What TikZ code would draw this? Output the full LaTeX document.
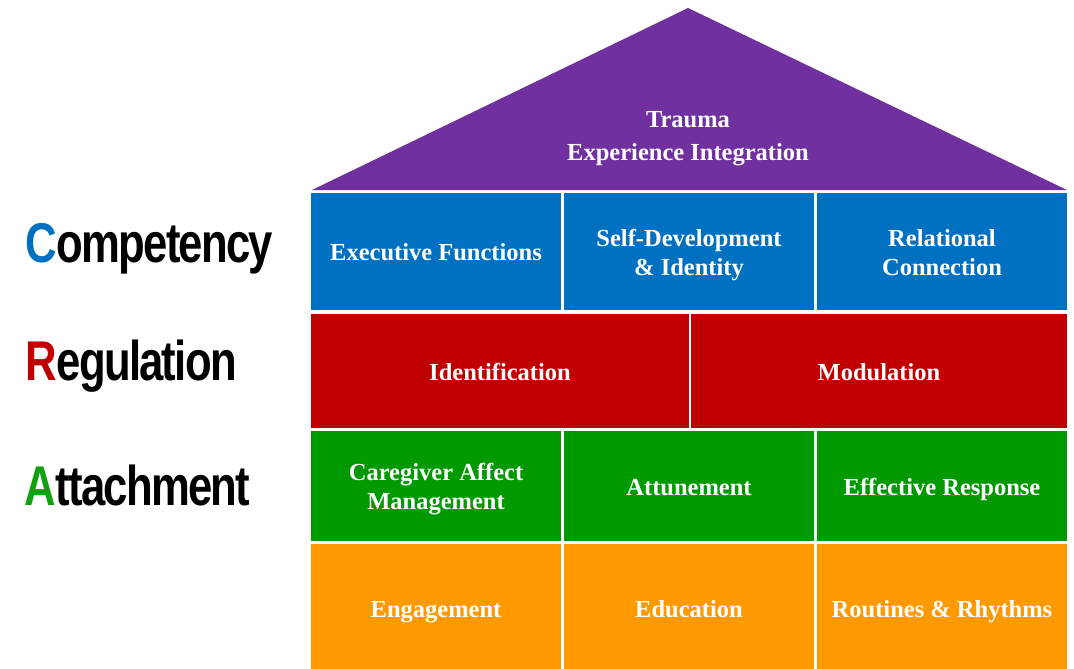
\documentclass[tikz,border=0pt]{standalone}
\usepackage{graphicx}
\usepackage{fontspec}
\setmainfont{Liberation Serif}
\newfontfamily\labelfont[LetterSpace=-4]{Liberation Sans}
\definecolor{roofC}{HTML}{7030A0}
\definecolor{compC}{HTML}{0070C0}
\definecolor{regC}{HTML}{C00000}
\definecolor{attC}{HTML}{009900}
\definecolor{foundC}{HTML}{FF9900}
\definecolor{letterA}{HTML}{10A010}
\begin{document}
\begin{tikzpicture}[x=1pt,y=-1pt,
  cell/.style={rectangle, inner sep=0pt, outer sep=0pt},
  celltext/.style={anchor=base, inner sep=0pt, outer sep=0pt, text=white,
    font=\bfseries\fontsize{24.5}{30}\selectfont},
  crlabel/.style={anchor=base west, inner sep=0pt, outer sep=0pt}
]
\useasboundingbox (0,0) rectangle (1074,669);
\clip (0,0) rectangle (1074,669);
\fill[white] (0,0) rectangle (1074,669);

% roof
\fill[roofC] (312,190) -- (688,8) -- (1067,190) -- cycle;
\coordinate (apex) at (688,8);
\node[celltext] (trauma1) at (688,127) {Trauma};
\node[celltext] (trauma2) at (688,160) {Experience Integration};

% Competency row
\node[cell, fill=compC, minimum width=250pt, minimum height=117pt] (ef) at (436,251.5) {};
\node[cell, fill=compC, minimum width=250pt, minimum height=117pt] (sd) at (689,251.5) {};
\node[cell, fill=compC, minimum width=250pt, minimum height=117pt] (rc) at (942,251.5) {};
\node[celltext] (efT) at ([shift={(0,9)}]ef.center) {Executive Functions};
\node[celltext] (sdT1) at ([shift={(0,-5.5)}]sd.center) {Self-Development};
\node[celltext] (sdT2) at ([shift={(0,23.5)}]sd.center) {\& Identity};
\node[celltext] (rcT1) at ([shift={(0,-5.5)}]rc.center) {Relational};
\node[celltext] (rcT2) at ([shift={(0,23.5)}]rc.center) {Connection};

% Regulation row
\node[cell, fill=regC, minimum width=378pt, minimum height=114pt] (id) at (500,371) {};
\node[cell, fill=regC, minimum width=376pt, minimum height=114pt] (mod) at (879,371) {};
\node[celltext] (idT) at ([shift={(0,9)}]id.center) {Identification};
\node[celltext] (modT) at ([shift={(0,9)}]mod.center) {Modulation};

% Attachment row
\node[cell, fill=attC, minimum width=250pt, minimum height=110pt] (cam) at (436,486) {};
\node[cell, fill=attC, minimum width=250pt, minimum height=110pt] (att) at (689,486) {};
\node[cell, fill=attC, minimum width=250pt, minimum height=110pt] (er) at (942,486) {};
\node[celltext] (camT1) at ([shift={(0,-5.5)}]cam.center) {Caregiver Affect};
\node[celltext] (camT2) at ([shift={(0,23.5)}]cam.center) {Management};
\node[celltext] (attT) at ([shift={(0,9)}]att.center) {Attunement};
\node[celltext] (erT) at ([shift={(0,9)}]er.center) {Effective Response};

% Foundation row
\node[cell, fill=foundC, minimum width=250pt, minimum height=132pt] (eng) at (436,610) {};
\node[cell, fill=foundC, minimum width=250pt, minimum height=132pt] (edu) at (689,610) {};
\node[cell, fill=foundC, minimum width=250pt, minimum height=132pt] (rr) at (942,610) {};
\node[celltext] (engT) at ([shift={(0,7)}]eng.center) {Engagement};
\node[celltext] (eduT) at ([shift={(0,7)}]edu.center) {Education};
\node[celltext] (rrT) at ([shift={(0,7)}]rr.center) {Routines \& Rhythms};

% left labels
\node[crlabel] (comp) at (25,262) {\scalebox{0.78}[1]{\labelfont\bfseries\fontsize{56}{56}\selectfont\textcolor{compC}{C}ompetency}};
\node[crlabel] (regu) at (25,380) {\scalebox{0.78}[1]{\labelfont\bfseries\fontsize{56}{56}\selectfont\textcolor{regC}{R}egulation}};
\node[crlabel] (atta) at (24,505) {\scalebox{0.78}[1]{\labelfont\bfseries\fontsize{56}{56}\selectfont\textcolor{letterA}{A}ttachment}};
\end{tikzpicture}
\end{document}
